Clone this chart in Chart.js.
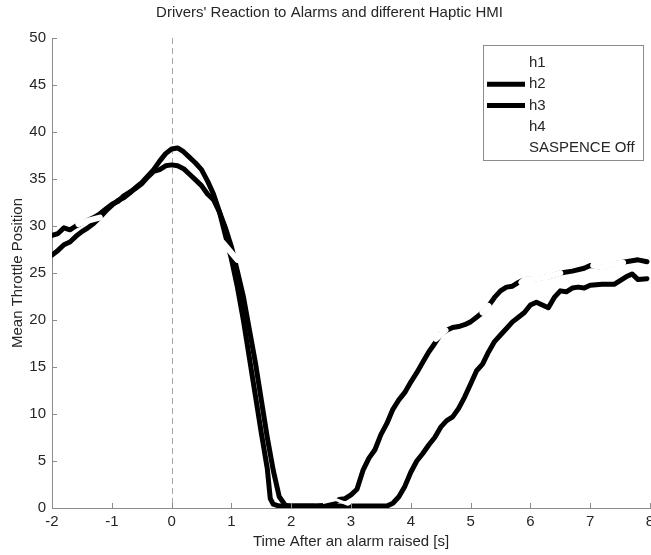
<!DOCTYPE html>
<html>
<head>
<meta charset="utf-8">
<script src="https://cdn.jsdelivr.net/npm/chart.js@4.4.0/dist/chart.umd.min.js"></script>
<style>
  html, body { margin: 0; padding: 0; background: #fff; }
</style>
</head>
<body>
<canvas id="throttleChart" width="651" height="555"></canvas>
<script>
// series (time in s, mean throttle position)
const timeH2 = [-2.0, -1.9, -1.8, -1.7, -1.6, -1.5, -1.4, -1.3, -1.2, -1.1, -1.0, -0.9, -0.8, -0.7, -0.6, -0.5, -0.4, -0.3, -0.2, -0.1,
  0.0, 0.1, 0.2, 0.3, 0.4, 0.5, 0.6, 0.7, 0.8, 0.9, 1.0, 1.1, 1.2, 1.3, 1.4, 1.5, 1.6, 1.7, 1.8, 1.9, 2.0, 2.2, 2.4, 2.6, 2.7, 2.8, 2.9,
  3.0, 3.1, 3.2, 3.3, 3.4, 3.5, 3.6, 3.7, 3.8, 3.9, 4.0, 4.1, 4.2, 4.3, 4.4, 4.5, 4.6, 4.7, 4.8, 4.9, 5.0, 5.1, 5.2, 5.3, 5.4, 5.5,
  5.6, 5.7, 5.8, 5.9, 6.1, 6.3, 6.5, 6.7, 6.9, 7.0, 7.2, 7.4, 7.6, 7.8, 7.95];
const throttleH2 = [29.0, 29.2, 29.8, 29.6, 30.0, 30.3, 30.6, 30.9, 31.3, 31.8, 32.3, 32.6, 33.2, 33.6, 34.0, 34.5, 35.2, 35.8, 36.0, 36.4,
  36.5, 36.4, 36.1, 35.5, 34.9, 34.3, 33.4, 32.8, 31.5, 29.8, 27.8, 25.2, 22.5, 19.0, 15.5, 11.5, 7.5, 4.0, 1.2, 0.3, 0.2, 0.2, 0.2, 0.3, 0.5, 0.9, 1.0,
  1.4, 2.0, 4.0, 5.3, 6.2, 7.8, 9.0, 10.5, 11.5, 12.3, 13.4, 14.4, 15.5, 16.6, 17.5, 18.5, 18.9, 19.2, 19.3, 19.5, 19.8, 20.3, 20.8, 21.5, 22.4, 23.1,
  23.5, 23.6, 24.0, 24.3, 24.4, 24.6, 25.0, 25.2, 25.5, 25.8, 25.6, 26.0, 26.2, 26.4, 26.2];

const timeH3 = [-2.0, -1.9, -1.8, -1.7, -1.6, -1.5, -1.4, -1.3, -1.2, -1.1, -1.0, -0.9, -0.8, -0.7, -0.6, -0.5, -0.4, -0.3, -0.2, -0.1,
  0.0, 0.1, 0.2, 0.3, 0.4, 0.5, 0.6, 0.7, 0.8, 0.9, 1.0, 1.1, 1.2, 1.3, 1.4, 1.5, 1.6, 1.65, 1.7, 1.8, 2.2, 2.6, 3.0, 3.4, 3.6, 3.7, 3.8, 3.9,
  4.0, 4.1, 4.2, 4.3, 4.4, 4.5, 4.6, 4.7, 4.8, 4.9, 5.0, 5.1, 5.2, 5.3, 5.4, 5.5, 5.6, 5.7, 5.8, 5.9, 6.0, 6.1, 6.2, 6.3, 6.4, 6.5,
  6.6, 6.7, 6.8, 6.9, 7.0, 7.2, 7.4, 7.5, 7.6, 7.7, 7.8, 7.95];
const throttleH3 = [26.9, 27.4, 28.0, 28.3, 28.9, 29.4, 29.8, 30.3, 30.9, 31.6, 32.2, 32.7, 33.0, 33.5, 34.1, 34.6, 35.3, 36.0, 36.9, 37.7,
  38.2, 38.3, 37.9, 37.3, 36.7, 36.0, 34.8, 33.4, 31.5, 29.0, 26.5, 23.5, 20.0, 16.0, 12.0, 8.0, 4.2, 1.0, 0.4, 0.2, 0.2, 0.2, 0.2, 0.2, 0.2, 0.5, 1.2, 2.3,
  3.8, 5.0, 5.8, 6.7, 7.5, 8.6, 9.3, 9.7, 10.6, 11.8, 13.2, 14.6, 15.3, 16.6, 17.7, 18.4, 19.1, 19.8, 20.3, 20.8, 21.6, 21.9, 21.6, 21.3, 22.4, 23.1,
  23.0, 23.4, 23.5, 23.4, 23.7, 23.8, 23.8, 24.2, 24.6, 24.9, 24.3, 24.4];

// white curves: only visible where they cut through the black ones
const timeH1 = [-1.56, -1.38, -1.2, -1.0, 0.86, 1.1];
const throttleH1 = [30.2, 30.6, 30.9, null, 28.2, 26.4];
const timeH4 = [4.42, 4.58, 4.7, 5.2, 5.3, 5.4, 5.85, 5.9, 6.1, 6.3, 6.5, 6.9, 7.05, 7.2, 7.4, 7.55];
const throttleH4 = [18.0, 18.9, null, 20.8, 21.5, null, 24.0, 24.3, 24.4, 24.6, 25.0, null, 25.8, 25.6, 26.0, 26.1];
const timeOff = [2.55, 2.75, 2.95, 3.05];
const throttleOff = [0.6, 0.9, 0.4, 0.8];

const seriesLabels = ['h1', 'h2', 'h3', 'h4', 'SASPENCE Off'];

const toPoints = (xs, ys) => xs.map((x, i) => ({ x: x, y: ys[i] }));

Chart.defaults.font.family = "'Liberation Sans', Arial, sans-serif";
Chart.defaults.font.size = 15;
Chart.defaults.color = '#262626';

const axisGray = '#8c8c8c';

// dashed line at t = 0, behind the curves
const zeroLine = {
  id: 'zeroLine',
  beforeDatasetsDraw(chart) {
    const { ctx, chartArea, scales } = chart;
    const px = Math.round(scales.x.getPixelForValue(0)) + 0.5;
    ctx.save();
    ctx.strokeStyle = '#a6a6a6';
    ctx.lineWidth = 1;
    ctx.setLineDash([6, 4]);
    ctx.beginPath();
    ctx.moveTo(px, chartArea.top);
    ctx.lineTo(px, chartArea.bottom);
    ctx.stroke();
    ctx.restore();
  }
};

// matlab style ticks pointing inwards
const innerTicks = {
  id: 'innerTicks',
  afterDraw(chart) {
    const { ctx, chartArea, scales } = chart;
    ctx.save();
    ctx.strokeStyle = axisGray;
    ctx.lineWidth = 1;
    ctx.beginPath();
    scales.x.ticks.forEach(t => {
      const px = Math.round(scales.x.getPixelForValue(t.value)) + 0.5;
      ctx.moveTo(px, chartArea.bottom);
      ctx.lineTo(px, chartArea.bottom - 5);
    });
    scales.y.ticks.forEach(t => {
      const py = Math.round(scales.y.getPixelForValue(t.value)) + 0.5;
      ctx.moveTo(chartArea.left, py);
      ctx.lineTo(chartArea.left + 5, py);
    });
    ctx.stroke();
    ctx.restore();
  }
};

// boxed legend in the top right corner
const legendBox = {
  id: 'legendBox',
  afterDraw(chart) {
    const { ctx, chartArea } = chart;
    const sets = chart.data.datasets;
    const w = 160, rowH = 21.2;
    const left = chartArea.right - 7 - w;
    const top = chartArea.top + 7;
    const h = 115;
    ctx.save();
    ctx.fillStyle = '#fff';
    ctx.fillRect(left, top, w, h);
    ctx.strokeStyle = axisGray;
    ctx.lineWidth = 1;
    ctx.strokeRect(Math.round(left) + 0.5, Math.round(top) + 0.5, w, h);
    ctx.font = "15px 'Liberation Sans', Arial, sans-serif";
    ctx.textBaseline = 'middle';
    sets.forEach((ds, i) => {
      const y = top + 18 + i * rowH;
      ctx.strokeStyle = ds.borderColor;
      ctx.lineWidth = Math.min(ds.borderWidth, 5);
      ctx.beginPath();
      ctx.moveTo(left + 4, y);
      ctx.lineTo(left + 42, y);
      ctx.stroke();
      ctx.fillStyle = '#262626';
      ctx.fillText(ds.label, left + 46, y);
    });
    ctx.restore();
  }
};

const ctx = document.getElementById('throttleChart').getContext('2d');
new Chart(ctx, {
  type: 'line',
  data: {
    datasets: [
      { label: seriesLabels[0], data: toPoints(timeH1, throttleH1), borderColor: '#ffffff', borderWidth: 6, order: 0 },
      { label: seriesLabels[1], data: toPoints(timeH2, throttleH2), borderColor: '#000000', borderWidth: 5, order: 1 },
      { label: seriesLabels[2], data: toPoints(timeH3, throttleH3), borderColor: '#000000', borderWidth: 5, order: 1 },
      { label: seriesLabels[3], data: toPoints(timeH4, throttleH4), borderColor: '#ffffff', borderWidth: 6, order: 0 },
      { label: seriesLabels[4], data: toPoints(timeOff, throttleOff), borderColor: '#ffffff', borderWidth: 3, order: 0 }
    ]
  },
  options: {
    responsive: false,
    animation: false,
    layout: { padding: { left: 9, right: 1, bottom: 4, top: 0 } },
    elements: {
      point: { radius: 0 },
      line: { tension: 0, borderJoinStyle: 'round', borderCapStyle: 'round', fill: false }
    },
    scales: {
      x: {
        type: 'linear', min: -2, max: 8,
        ticks: { stepSize: 1, padding: 5 },
        grid: { display: false, drawTicks: false },
        border: { color: axisGray },
        title: { display: true, text: 'Time After an alarm raised [s]', padding: 0 },
        afterFit: s => { s.height = 43; s.paddingLeft = 0; s.paddingRight = 0; }
      },
      y: {
        min: 0, max: 50,
        ticks: { stepSize: 5, padding: 6 },
        grid: { display: false, drawTicks: false },
        border: { color: axisGray },
        title: { display: true, text: 'Mean Throttle Position', padding: 0 },
        afterFit: s => { s.width = 43; s.paddingTop = 0; s.paddingBottom = 0; }
      }
    },
    plugins: {
      legend: { display: false },
      tooltip: { enabled: false },
      title: {
        display: true,
        text: "Drivers' Reaction to Alarms and different Haptic HMI",
        font: { size: 15, weight: 'normal' },
        color: '#262626',
        padding: { top: 4, bottom: 16 }
      }
    }
  },
  plugins: [zeroLine, innerTicks, legendBox]
});
</script>
</body>
</html>
